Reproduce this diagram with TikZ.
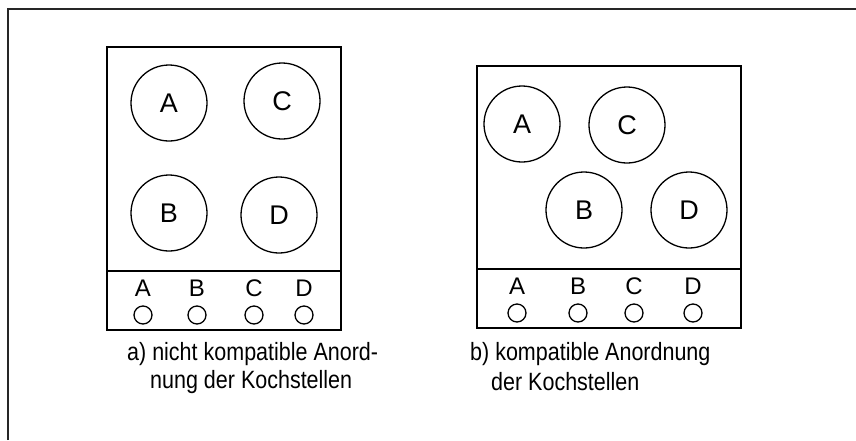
\documentclass[tikz,border=0pt]{standalone}
\usepackage{fontspec}
\setmainfont{Liberation Sans}
\newfontfamily\capfont[FakeStretch=0.86]{Liberation Sans}
\begin{document}
\begin{tikzpicture}[x=1pt,y=-1pt,
  frameline/.style={line width=1.8pt, draw=black!85},
  boxline/.style={line width=1.8pt, draw=black},
  hob/.style={circle, draw=black, line width=1.3pt, minimum size=76pt, inner sep=0pt,
    font=\fontsize{27}{27}\selectfont},
  knob/.style={circle, draw=black, line width=1.3pt, minimum size=18pt, inner sep=0pt},
  knoblabel/.style={inner sep=0pt, font=\fontsize{24}{24}\selectfont},
  caption/.style={anchor=west, inner sep=0pt, font=\capfont\fontsize{25}{25}\selectfont}]
\useasboundingbox (0,0) rectangle (856,440);

% outer frame (only left and top edges are drawn)
\coordinate (fbl) at (8,440);
\coordinate (ftl) at (8,9);
\coordinate (ftr) at (856,9);
\draw[frameline] (fbl) -- (ftl) -- (ftr);

% ---- a) non-compatible arrangement ----
\coordinate (la1) at (107,47);
\coordinate (la2) at (341,330);
\coordinate (lda) at (107,271);
\coordinate (ldb) at (341,271);
\draw[boxline] (la1) rectangle (la2);
\draw[boxline] (lda) -- (ldb);

\node[hob] (aA) at (169,103) {A};
\node[hob] (aC) at (282,101) {C};
\node[hob] (aB) at (169,213) {B};
\node[hob] (aD) at (279,215) {D};

\node[knoblabel] (alA) at (143,288) {A};
\node[knoblabel] (alB) at (197,288) {B};
\node[knoblabel] (alC) at (254,288) {C};
\node[knoblabel] (alD) at (304,288) {D};
\node[knob] (akA) at (143,315) {};
\node[knob] (akB) at (197,315) {};
\node[knob] (akC) at (254,315) {};
\node[knob] (akD) at (304,315) {};

\node[caption] (capa1) at (127,354) {a) nicht kompatible Anord-};
\node[caption] (capa2) at (150,382) {nung der Kochstellen};

% ---- b) compatible arrangement ----
\coordinate (rb1) at (477,66);
\coordinate (rb2) at (741,328);
\coordinate (rda) at (477,269);
\coordinate (rdb) at (741,269);
\draw[boxline] (rb1) rectangle (rb2);
\draw[boxline] (rda) -- (rdb);

\node[hob] (bA) at (522,124) {A};
\node[hob] (bC) at (627,125) {C};
\node[hob] (bB) at (584,210) {B};
\node[hob] (bD) at (689,210) {D};

\node[knoblabel] (blA) at (517,286) {A};
\node[knoblabel] (blB) at (578,286) {B};
\node[knoblabel] (blC) at (634,286) {C};
\node[knoblabel] (blD) at (693,286) {D};
\node[knob] (bkA) at (517,313) {};
\node[knob] (bkB) at (578,313) {};
\node[knob] (bkC) at (634,313) {};
\node[knob] (bkD) at (693,313) {};

\node[caption] (capb1) at (470,354) {b) kompatible Anordnung};
\node[caption] (capb2) at (491,382) {der Kochstellen};
\end{tikzpicture}
\end{document}
